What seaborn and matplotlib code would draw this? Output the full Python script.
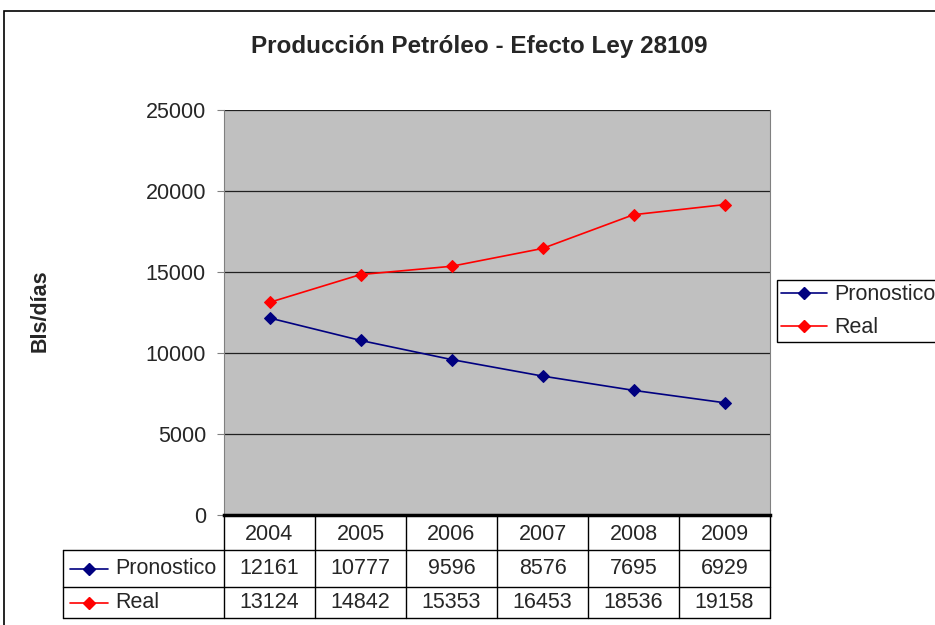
import numpy as np
import pandas as pd
import seaborn as sns
import matplotlib.pyplot as plt
from matplotlib.patches import Rectangle
from matplotlib.lines import Line2D

years = ["2004", "2005", "2006", "2007", "2008", "2009"]
pronostico = [12161, 10777, 9596, 8576, 7695, 6929]
real = [13124, 14842, 15353, 16453, 18536, 19158]
series = ["Pronostico", "Real"]
colors = ["#000080", "#FF0000"]

df = pd.DataFrame({
    "pos": list(range(len(years))) * 2,
    "valor": pronostico + real,
    "serie": [series[0]] * len(years) + [series[1]] * len(years),
})

sns.set_style("white")
plt.rcParams["font.family"] = ["Liberation Sans", "DejaVu Sans"]

W, H = 935, 625
fig = plt.figure(figsize=(W / 100, H / 100), dpi=100)
ax = fig.add_axes([224 / W, 1 - 515 / H, 546 / W, 405 / H])

palette = dict(zip(series, colors))
sns.lineplot(data=df, x="pos", y="valor", hue="serie", palette=palette,
             style="serie", markers={s: "D" for s in series}, dashes=False,
             markersize=6, linewidth=1.2, legend=False, ax=ax)
for ln in ax.lines:
    ln.set_markeredgecolor(ln.get_color())

ax.set_facecolor("#C0C0C0")
ax.set_xlim(-0.5, len(years) - 0.5)
ax.set_ylim(0, 25000)
ax.set_yticks(range(0, 25001, 5000))
ax.set_xticks([])
ax.set_xlabel("")
ax.set_ylabel("")
ax.yaxis.grid(True, color="#202020", linewidth=0.9)
ax.set_axisbelow(True)
ax.tick_params(axis="y", left=True, length=5, color="#808080", labelsize=15.5, pad=8)
for side in ["left", "right"]:
    ax.spines[side].set_color("#808080")
ax.spines["top"].set_visible(False)
ax.spines["bottom"].set_color("black")
ax.spines["bottom"].set_linewidth(2.5)

# data table below the axis
tr = ax.get_xaxis_transform()
px = 405.0
y_head = -35 / px
y_r1 = -72 / px
y_r2 = -103 / px
x_left = (63 - 224) / 91 - 0.5
n = len(years)
kw = dict(transform=tr, clip_on=False, color="black", linewidth=1)
for i in range(n + 1):
    ax.plot([i - 0.5, i - 0.5], [0, y_r2], **kw)
ax.plot([x_left, x_left], [y_head, y_r2], **kw)
for yy in [y_head, y_r1, y_r2]:
    ax.plot([x_left, n - 0.5], [yy, yy], **kw)

for i, yr in enumerate(years):
    ax.text(i, y_head / 2 - 0.004, yr, transform=tr, ha="center", va="center", fontsize=15.5)
rows = [pronostico, real]
row_centers = [(y_head + y_r1) / 2, (y_r1 + y_r2) / 2]
for vals, name, col, yc in zip(rows, series, colors, row_centers):
    for i, v in enumerate(vals):
        ax.text(i, yc, str(v), transform=tr, ha="center", va="center", fontsize=15.5)
    x0 = (70 - 224) / 91 - 0.5
    x1 = (108 - 224) / 91 - 0.5
    ax.plot([x0, x1], [yc, yc], transform=tr, clip_on=False, color=col, linewidth=1.2)
    ax.plot([(x0 + x1) / 2], [yc], transform=tr, clip_on=False, marker="D",
            color=col, markersize=6)
    ax.text((115 - 224) / 91 - 0.5, yc, name, transform=tr, ha="left", va="center",
            fontsize=15.5)

# legend
handles = [Line2D([0], [0], color=c, marker="D", markersize=6, linewidth=1.2)
           for c in colors]
leg = fig.legend(handles, series, loc="upper left",
                 bbox_to_anchor=(777 / W, 1 - 280 / H), frameon=True,
                 fancybox=False, edgecolor="black", fontsize=15.5,
                 handlelength=2.1, borderaxespad=0, borderpad=0.2,
                 labelspacing=0.55, handletextpad=0.35)
leg.get_frame().set_linewidth(1)
leg.get_frame().set_alpha(None)

fig.text(479 / W, 1 - 46 / H, "Producción Petróleo - Efecto Ley 28109",
         ha="center", va="center", fontsize=17.5, fontweight="bold")
fig.text(40 / W, 1 - 311 / H, "Bls/días", rotation=90, ha="center", va="center",
         fontsize=15.5, fontweight="bold")

fig.add_artist(Rectangle((4 / W, -0.1), 2, 1 - 11 / H + 0.1, transform=fig.transFigure,
                         fill=False, edgecolor="black", linewidth=1.2))

fig.savefig("out.png", dpi=100)
